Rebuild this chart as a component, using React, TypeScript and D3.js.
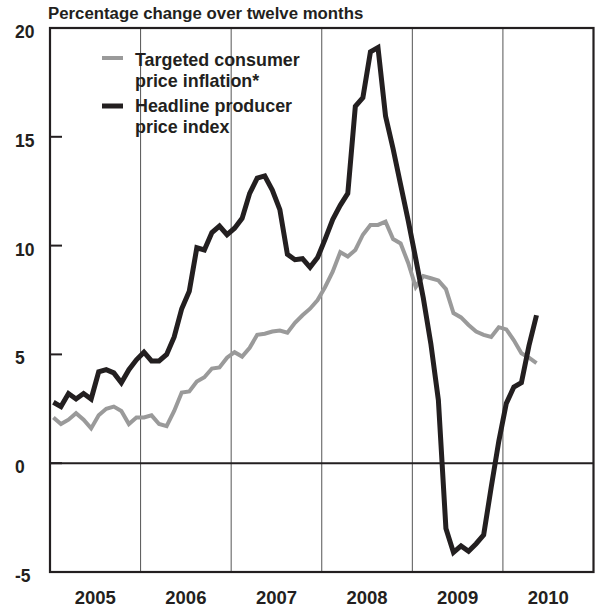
import React from "react";
import * as d3 from "d3";

const title = "Percentage change over twelve months";
const years = ["2005", "2006", "2007", "2008", "2009", "2010"];
const yTicks = [20, 15, 10, 5, 0, -5];
const innerTicks = [15, 10, 5, 0];

// Monthly, Jan 2005 – May 2010
const cpi = [
  2.1, 1.8, 2.0, 2.3, 2.0, 1.6, 2.2, 2.5, 2.6, 2.4, 1.8, 2.1,
  2.1, 2.2, 1.8, 1.7, 2.4, 3.25, 3.3, 3.75, 3.95, 4.35, 4.4, 4.85,
  5.1, 4.9, 5.3, 5.9, 5.95, 6.05, 6.1, 6.0, 6.45, 6.8, 7.1, 7.5,
  8.1, 8.8, 9.7, 9.5, 9.8, 10.5, 10.95, 10.95, 11.1, 10.3, 10.1, 9.2,
  8.1, 8.6, 8.5, 8.4, 8.0, 6.9, 6.7, 6.35, 6.05, 5.9, 5.8, 6.25,
  6.15, 5.65, 5.05, 4.85, 4.6,
];
const ppi = [
  2.8, 2.6, 3.2, 2.95, 3.2, 2.95, 4.2, 4.3, 4.15, 3.7, 4.3, 4.75,
  5.1, 4.7, 4.7, 5.0, 5.8, 7.1, 7.9, 9.9, 9.8, 10.6, 10.9, 10.5,
  10.8, 11.25, 12.4, 13.1, 13.2, 12.55, 11.65, 9.6, 9.35, 9.4, 9.0, 9.45,
  10.3, 11.2, 11.85, 12.4, 16.4, 16.8, 18.9, 19.1, 15.95, 14.45, 12.8, 11.15,
  9.4, 7.6, 5.5, 2.9, -3.0, -4.1, -3.8, -4.05, -3.7, -3.3, -1.1, 1.0,
  2.75, 3.5, 3.7, 5.4, 6.8,
];
const legendCpi = ["Targeted consumer", "price inflation*"];
const legendPpi = ["Headline producer", "price index"];

const INK = "#231f20";
const GREY = "#9a9a9a";
const FONT = "'Liberation Sans', Arial, Helvetica, sans-serif";

export default function App() {
  const left = 50, right = 593.5, top = 28, bottom = 572;
  const x = d3.scaleLinear().domain([0, years.length * 12]).range([left, right]);
  const y = d3.scaleLinear().domain([-5, 20]).range([bottom, top]);
  const line = d3
    .line<number>()
    .x((_, i) => x(i + 0.45))
    .y((d) => y(d));

  return (
    <div style={{ position: "absolute", left: 0, top: 0 }}>
      <svg width={597} height={611} style={{ display: "block", background: "#fff" }}>
        <text x={48} y={19} fontFamily={FONT} fontWeight={700} fontSize={16.8} fill={INK}>
          {title}
        </text>

        {/* year separators */}
        {years.slice(1).map((yr, i) => (
          <line
            key={yr}
            x1={x((i + 1) * 12)}
            x2={x((i + 1) * 12)}
            y1={top}
            y2={bottom}
            stroke="#555"
            strokeWidth={1}
          />
        ))}

        {/* zero line */}
        <line x1={left} x2={right} y1={y(0)} y2={y(0)} stroke={INK} strokeWidth={2} />

        {/* inner ticks */}
        {innerTicks.map((t) => (
          <line key={t} x1={left} x2={left + 12} y1={y(t)} y2={y(t)} stroke={INK} strokeWidth={2} />
        ))}

        {/* series */}
        <path d={line(cpi) || ""} fill="none" stroke={GREY} strokeWidth={4} strokeLinejoin="miter" strokeMiterlimit={3} />
        <path d={line(ppi) || ""} fill="none" stroke={INK} strokeWidth={5} strokeLinejoin="miter" strokeMiterlimit={3} />

        {/* frame */}
        <rect x={left} y={top} width={right - left} height={bottom - top} fill="none" stroke={INK} strokeWidth={2.2} />

        {/* y labels */}
        {yTicks.map((t) => (
          <text
            key={t}
            x={15}
            y={y(t) + 4}
            dominantBaseline="central"
            fontFamily={FONT}
            fontWeight={700}
            fontSize={17.5}
            fill={INK}
          >
            {t}
          </text>
        ))}

        {/* x labels */}
        {years.map((yr, i) => (
          <text
            key={yr}
            x={x(i * 12 + 6)}
            y={604}
            textAnchor="middle"
            fontFamily={FONT}
            fontWeight={700}
            fontSize={18.5}
            fill={INK}
          >
            {yr}
          </text>
        ))}

        {/* legend */}
        <line x1={102} x2={123} y1={58} y2={58} stroke={GREY} strokeWidth={4} />
        <line x1={102} x2={123} y1={106} y2={106} stroke={INK} strokeWidth={5} />
        <g fontFamily={FONT} fontWeight={700} fontSize={17.9} fill={INK}>
          <text x={135} y={66}>{legendCpi[0]}</text>
          <text x={135} y={87}>{legendCpi[1]}</text>
          <text x={135} y={112}>{legendPpi[0]}</text>
          <text x={135} y={133}>{legendPpi[1]}</text>
        </g>
      </svg>
    </div>
  );
}
